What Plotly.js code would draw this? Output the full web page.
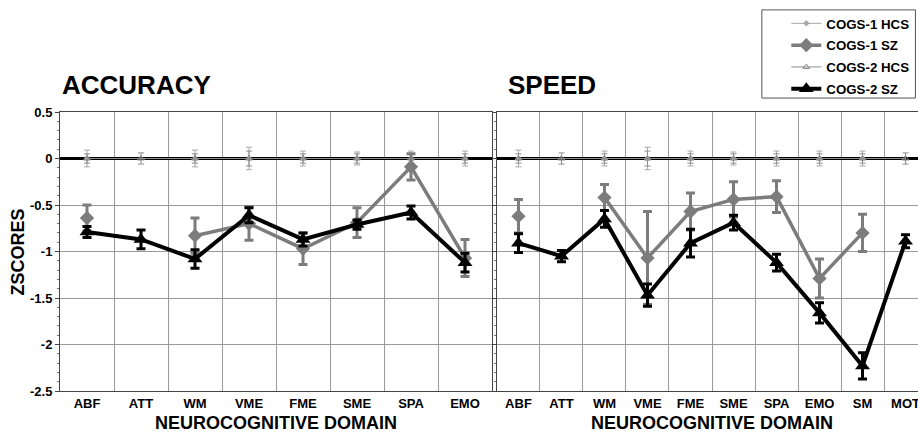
<!DOCTYPE html>
<html>
<head>
<meta charset="utf-8">
<script src="https://cdn.plot.ly/plotly-3.0.1.min.js"></script>
<style>html,body{margin:0;padding:0;background:#fff;}#chart{width:918px;height:433px;}</style>
</head>
<body>
<div id="chart"></div>
<script>
// ---- data ----
const accCategories = ["ABF","ATT","WM","VME","FME","SME","SPA","EMO"];
const spdCategories = ["ABF","ATT","WM","VME","FME","SME","SPA","EMO","SM","MOT"];
const seriesNames = ["COGS-1 HCS","COGS-1 SZ","COGS-2 HCS","COGS-2 SZ"];

// ACCURACY
const accC1HCS    = [0, null, 0, 0, 0, 0, 0, 0];
const accC1HCSErr = [0.09, null, 0.09, 0.12, 0.08, 0.07, 0.08, 0.08];
const accC1SZ     = [-0.64, null, -0.83, -0.70, -0.97, -0.69, -0.09, -1.07];
const accC1SZErr  = [0.14, null, 0.19, 0.18, 0.17, 0.16, 0.14, 0.20];
const accC2HCS    = [0, 0, 0, 0, 0, 0, 0, 0];
const accC2HCSErr = [0.05, 0.06, 0.05, 0.08, 0.05, 0.05, 0.05, 0.05];
const accC2SZ     = [-0.79, -0.87, -1.08, -0.61, -0.87, -0.71, -0.58, -1.12];
const accC2SZErr  = [0.06, 0.10, 0.10, 0.08, 0.07, 0.05, 0.07, 0.10];

// SPEED
const spdC1HCS    = [0, null, 0, 0, 0, 0, 0, 0, 0, null];
const spdC1HCSErr = [0.09, null, 0.08, 0.12, 0.08, 0.07, 0.08, 0.08, 0.08, null];
const spdC1SZ     = [-0.62, null, -0.42, -1.07, -0.57, -0.44, -0.41, -1.29, -0.80, null];
const spdC1SZErr  = [0.18, null, 0.14, 0.50, 0.20, 0.19, 0.17, 0.21, 0.20, null];
const spdC2HCS    = [0, 0, 0, 0, 0, 0, 0, 0, 0, 0];
const spdC2HCSErr = [0.05, 0.06, 0.05, 0.08, 0.05, 0.05, 0.05, 0.05, 0.05, 0.06];
const spdC2SZ     = [-0.91, -1.05, -0.65, -1.47, -0.91, -0.69, -1.12, -1.66, -2.23, -0.89];
const spdC2SZErr  = [0.10, 0.06, 0.09, 0.12, 0.15, 0.08, 0.09, 0.11, 0.14, 0.07];

const yTickVals = [0.5, 0, -0.5, -1, -1.5, -2, -2.5];
const yTickText = ["0.5", "0", "-0.5", "-1", "-1.5", "-2", "-2.5"];

// ---- styles ----
const FONT = "Liberation Sans, Arial, Helvetica, sans-serif";
const styles = [
  {color: "#a8a8a8", symbol: "diamond", msize: 5, lw: 1, ew: 1, ecap: 3},
  {color: "#7c7c7c", symbol: "diamond", msize: 11, lw: 3.5, ew: 3, ecap: 4.5},
  {color: "#8c8c8c", symbol: "triangle-up-open", msize: 6, lw: 1, ew: 1, ecap: 3},
  {color: "#000000", symbol: "triangle-up", msize: 13, lw: 4, ew: 3, ecap: 4.5}
];

function mk(i, cats, ys, errs, xa, ya, showleg) {
  const s = styles[i];
  return {
    type: "scatter", mode: "lines+markers",
    name: seriesNames[i], legendgroup: seriesNames[i], showlegend: showleg,
    x: cats, y: ys, xaxis: xa, yaxis: ya,
    connectgaps: false,
    line: {color: s.color, width: s.lw},
    marker: {color: s.color, symbol: s.symbol, size: s.msize, line: {color: s.color, width: s.symbol.indexOf("open") >= 0 ? 1 : 0}},
    error_y: {type: "data", array: errs, visible: true, color: s.color, thickness: s.ew, width: s.ecap}
  };
}

const data = [
  mk(0, accCategories, accC1HCS, accC1HCSErr, "x", "y", true),
  mk(2, accCategories, accC2HCS, accC2HCSErr, "x", "y", true),
  mk(1, accCategories, accC1SZ, accC1SZErr, "x", "y", true),
  mk(3, accCategories, accC2SZ, accC2SZErr, "x", "y", true),
  mk(0, spdCategories, spdC1HCS, spdC1HCSErr, "x2", "y2", false),
  mk(2, spdCategories, spdC2HCS, spdC2HCSErr, "x2", "y2", false),
  mk(1, spdCategories, spdC1SZ, spdC1SZErr, "x2", "y2", false),
  mk(3, spdCategories, spdC2SZ, spdC2SZErr, "x2", "y2", false)
];

const gridColor = "#9a9a9a";
const lineColor = "#444";
const tickFont = {family: FONT, size: 13, color: "#000", weight: "bold"};

function xAxis(cats, domain, range) {
  return {
    type: "category", categoryorder: "array", categoryarray: cats,
    domain: domain, range: range, tickson: "boundaries",
    showgrid: true, gridcolor: gridColor, gridwidth: 1,
    showline: true, linecolor: lineColor, linewidth: 1, mirror: true,
    ticks: "", tickfont: tickFont, fixedrange: true
  };
}
function yAxis(showLabels, anchor, mirror) {
  return {
    range: [-2.5, 0.5], tickmode: "array", tickvals: yTickVals, ticktext: yTickText,
    showticklabels: showLabels, anchor: anchor,
    showgrid: true, gridcolor: gridColor, gridwidth: 1,
    zeroline: true, zerolinecolor: "#000", zerolinewidth: 2.5,
    showline: true, linecolor: lineColor, linewidth: 1, mirror: mirror,
    ticks: "outside", ticklen: 4, tickcolor: lineColor,
    minor: {tickmode: "linear", tick0: 0, dtick: 0.1, ticks: "outside", ticklen: 2, tickcolor: "#777", showgrid: false},
    tickfont: tickFont, fixedrange: true
  };
}

const titleFont = {family: FONT, size: 26, color: "#000", weight: "bold"};
const axTitleFont = {family: FONT, size: 18, color: "#000", weight: "bold"};

const layout = {
  width: 918, height: 433,
  margin: {l: 60, r: 0, t: 112, b: 42, pad: 0},
  paper_bgcolor: "#fff", plot_bgcolor: "#fff",
  font: {family: FONT, color: "#000"},
  xaxis: xAxis(accCategories, [0, 0.5035], [-0.5, 7.5]),
  yaxis: yAxis(true, "x", true),
  xaxis2: xAxis(spdCategories, [0.5093, 1], [-0.5, 9.29]),
  yaxis2: yAxis(false, "x2", false),
  showlegend: true,
  legend: {
    x: 0.8465, y: 1.372, xanchor: "left", yanchor: "top",
    bgcolor: "rgba(0,0,0,0)", borderwidth: 0,
    font: {family: FONT, size: 13.3, color: "#000", weight: "bold"},
    traceorder: "grouped", tracegroupgap: 1.5, itemwidth: 30
  },
  shapes: [
    {type: "rect", xref: "paper", yref: "paper", x0: 0.818, x1: 0.997, y0: 1.05, y1: 1.366,
     line: {color: "#555", width: 1}, fillcolor: "rgba(0,0,0,0)", layer: "below"}
  ],
  annotations: [
    {text: "ACCURACY", xref: "paper", yref: "paper", x: 0.0, y: 1.097, xanchor: "left", yanchor: "middle", showarrow: false, font: titleFont},
    {text: "SPEED", xref: "paper", yref: "paper", x: 0.5198, y: 1.097, xanchor: "left", yanchor: "middle", showarrow: false, font: titleFont},
    {text: "NEUROCOGNITIVE DOMAIN", xref: "x domain", yref: "paper", x: 0.5, y: -0.115, xanchor: "center", yanchor: "middle", showarrow: false, font: axTitleFont},
    {text: "NEUROCOGNITIVE DOMAIN", xref: "x2", yref: "paper", x: 4.5, y: -0.115, xanchor: "center", yanchor: "middle", showarrow: false, font: axTitleFont},
    {text: "ZSCORES", xref: "paper", yref: "paper", x: -0.049, y: 0.5, xanchor: "center", yanchor: "middle", textangle: -90, showarrow: false, font: axTitleFont}
  ]
};

// legend order as in the reference: COGS-1 HCS, COGS-1 SZ, COGS-2 HCS, COGS-2 SZ
data[0].legendrank = 1; data[2].legendrank = 2; data[1].legendrank = 3; data[3].legendrank = 4;

Plotly.newPlot("chart", data, layout, {displayModeBar: false, staticPlot: true});
</script>
</body>
</html>
